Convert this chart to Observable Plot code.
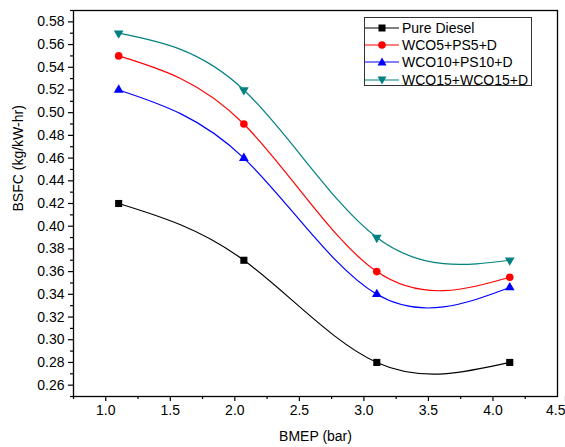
<!DOCTYPE html>
<html>
<head>
<meta charset="utf-8">
<script src="https://cdn.jsdelivr.net/npm/d3@7"></script>
<script src="https://cdn.jsdelivr.net/npm/@observablehq/plot@0.6"></script>
<style>
  body { margin: 0; background: #fff; }
  #wrap { position: relative; width: 565px; height: 447px; font-family: "Liberation Sans", Arial, sans-serif; }
  #legend { position: absolute; left: 364px; top: 17px; width: 168px; height: 69px; border: 1px solid #333; background: #fff; box-sizing: border-box; padding-top: 1px; }
  .row { display: flex; align-items: center; height: 17.3px; font-size: 14px; color: #000; white-space: nowrap; }
  .row svg { margin-right: 3px; flex: none; }
</style>
</head>
<body>
<div id="wrap"></div>
<script>
const bmep = [1.1, 2.07, 3.1, 4.13];
const seriesNames = ["Pure Diesel", "WCO5+PS5+D", "WCO10+PS10+D", "WCO15+WCO15+D"];
const pureDiesel = [0.42, 0.37, 0.28, 0.28];
const wco5ps5 = [0.55, 0.49, 0.36, 0.355];
const wco10ps10 = [0.52, 0.46, 0.34, 0.346];
const wco15 = [0.57, 0.52, 0.39, 0.37];
const seriesColors = ["#000000", "#ff0000", "#0000ff", "#008080"];
const xTicks = [1.0, 1.5, 2.0, 2.5, 3.0, 3.5, 4.0];
const xLastTick = [4.5];
const yTicks = [0.26, 0.28, 0.30, 0.32, 0.34, 0.36, 0.38, 0.40, 0.42, 0.44, 0.46, 0.48, 0.50, 0.52, 0.54, 0.56, 0.58];
const xMinor = [0.75, 1.25, 1.75, 2.25, 2.75, 3.25, 3.75, 4.25];
const yMinor = [0.25, 0.27, 0.29, 0.31, 0.33, 0.35, 0.37, 0.39, 0.41, 0.43, 0.45, 0.47, 0.49, 0.51, 0.53, 0.55, 0.57, 0.59];

const triangleDown = {
  draw(context, size) {
    const s3 = Math.sqrt(3);
    const y = Math.sqrt(size / (s3 * 3));
    context.moveTo(0, y * 2);
    context.lineTo(-s3 * y, -y);
    context.lineTo(s3 * y, -y);
    context.closePath();
  }
};
const symbols = ["square", "circle", "triangle", triangleDown];
const radii = [4, 3.8, 3.6, 3.6];
const values = [pureDiesel, wco5ps5, wco10ps10, wco15];

const data = [];
seriesNames.forEach((name, i) => {
  bmep.forEach((x, j) => data.push({series: name, idx: i, x, y: values[i][j]}));
});

const marks = [];
seriesNames.forEach((name, i) => {
  const d = data.filter(r => r.idx === i);
  marks.push(Plot.line(d, {x: "x", y: "y", stroke: seriesColors[i], strokeWidth: 1.2, curve: "natural"}));
  marks.push(Plot.dot(d, {x: "x", y: "y", fill: seriesColors[i], stroke: "none", symbol: symbols[i], r: radii[i]}));
});

const chart = Plot.plot({
  width: 565,
  height: 447,
  marginLeft: 73,
  marginRight: 8,
  marginTop: 10,
  marginBottom: 51,
  style: {fontFamily: "'Liberation Sans', Arial, sans-serif", fontSize: "14px", color: "#000", background: "#fff"},
  x: {domain: [0.75, 4.5]},
  y: {domain: [0.25, 0.59]},
  marks: [
    Plot.axisX({ticks: xTicks, tickSize: 5, tickPadding: 4, tickFormat: d3.format(".1f"), label: null, strokeWidth: 1.2, fontSize: 14}),
    Plot.axisX({ticks: xLastTick, tickSize: 5, tickPadding: 4, tickFormat: d3.format(".1f"), label: null, strokeWidth: 1.2, fontSize: 14, textAnchor: "end", dx: 8}),
    Plot.axisX({ticks: xMinor, tickSize: 3, tickFormat: () => "", label: null, strokeWidth: 1.2}),
    Plot.axisY({ticks: yTicks, tickSize: 5, tickPadding: 4, tickFormat: d3.format(".2f"), label: null, strokeWidth: 1.2, fontSize: 14}),
    Plot.axisY({ticks: yMinor, tickSize: 3, tickFormat: () => "", label: null, strokeWidth: 1.2}),
    Plot.text(["BSFC (kg/kW-hr)"], {frameAnchor: "left", rotate: -90, dx: -55, dy: 8, fontSize: 14, fill: "#000"}),
    Plot.text(["BMEP (bar)"], {frameAnchor: "bottom", dy: 44, fontSize: 14, fill: "#000"}),
    ...marks,
    Plot.frame({stroke: "#000", strokeWidth: 1.3})
  ]
});

const wrap = document.getElementById("wrap");
wrap.appendChild(chart);

const legend = document.createElement("div");
legend.id = "legend";
const shapePath = (i) => {
  const c = seriesColors[i];
  if (i === 0) return `<rect x="13.5" y="3.5" width="7" height="7" fill="${c}"/>`;
  if (i === 1) return `<circle cx="17" cy="7" r="3.8" fill="${c}"/>`;
  if (i === 2) return `<path d="M17,2.6 L21.5,10.4 L12.5,10.4 Z" fill="${c}"/>`;
  return `<path d="M17,11.4 L21.5,3.6 L12.5,3.6 Z" fill="${c}"/>`;
};
seriesNames.forEach((name, i) => {
  const row = document.createElement("div");
  row.className = "row";
  row.innerHTML = `<svg width="34" height="14"><line x1="0" y1="7" x2="34" y2="7" stroke="${seriesColors[i]}" stroke-width="1.2"/>${shapePath(i)}</svg><span>${name}</span>`;
  legend.appendChild(row);
});
wrap.appendChild(legend);
</script>
</body>
</html>
